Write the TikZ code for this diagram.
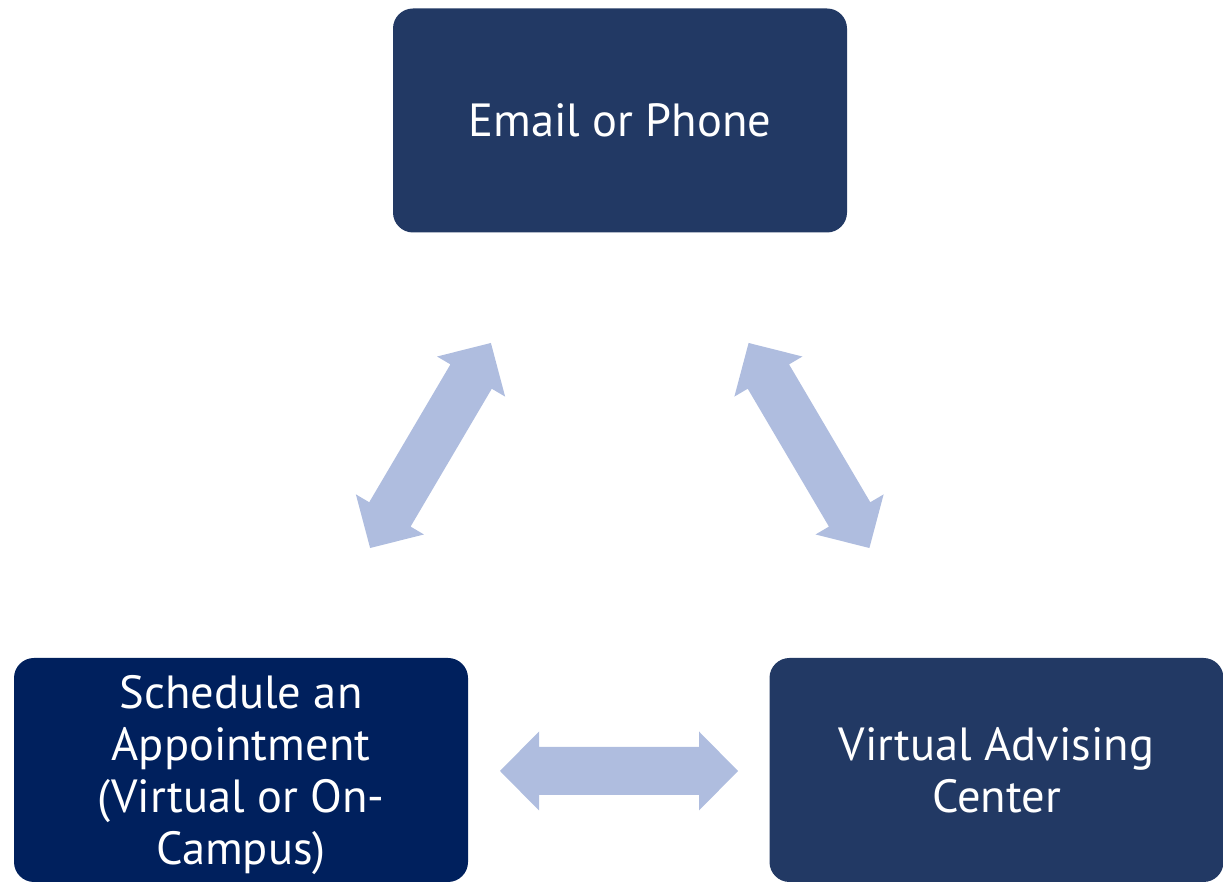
\documentclass[tikz,border=0pt]{standalone}
\usepackage{fontspec}
\setmainfont{PT Sans}
\definecolor{boxblue}{HTML}{223964}
\definecolor{boxnavy}{HTML}{00205D}
\definecolor{arrowblue}{HTML}{AFBDDF}
\tikzset{
  x=1pt, y=1pt,
  boxtext/.style={text=white, align=center, inner sep=0pt, font=\fontsize{46.5}{52}\selectfont},
  box/.style={fill=#1, rounded corners=20pt, minimum width=454pt, minimum height=224pt, boxtext},
  box/.default=boxblue,
  dblarrow/.pic={
    \fill[arrowblue] (-119,0) -- (-80,39.5) -- (-80,24) -- (80,24) -- (80,39.5) -- (119,0)
      -- (80,-39.5) -- (80,-24) -- (-80,-24) -- (-80,-39.5) -- cycle;
  }
}
\begin{document}
\begin{tikzpicture}
\useasboundingbox (0,0) rectangle (1223,882);
\node[box] (email) at (620,761.5) {Email or Phone};
\node[box=boxnavy] (sched) at (241,112) {};
\node[boxtext, yshift=-5pt] (schedtext) at (sched.center) {Schedule an\\Appointment\\(Virtual or On-\\Campus)};
\node[box] (vac) at (996.5,112) {Virtual Advising\\Center};
\pic[rotate=59.5] (a1) at (430.5,436.5) {dblarrow};
\pic[rotate=-59.5] (a2) at (809,436.5) {dblarrow};
\pic (a3) at (619,111) {dblarrow};
\end{tikzpicture}
\end{document}
